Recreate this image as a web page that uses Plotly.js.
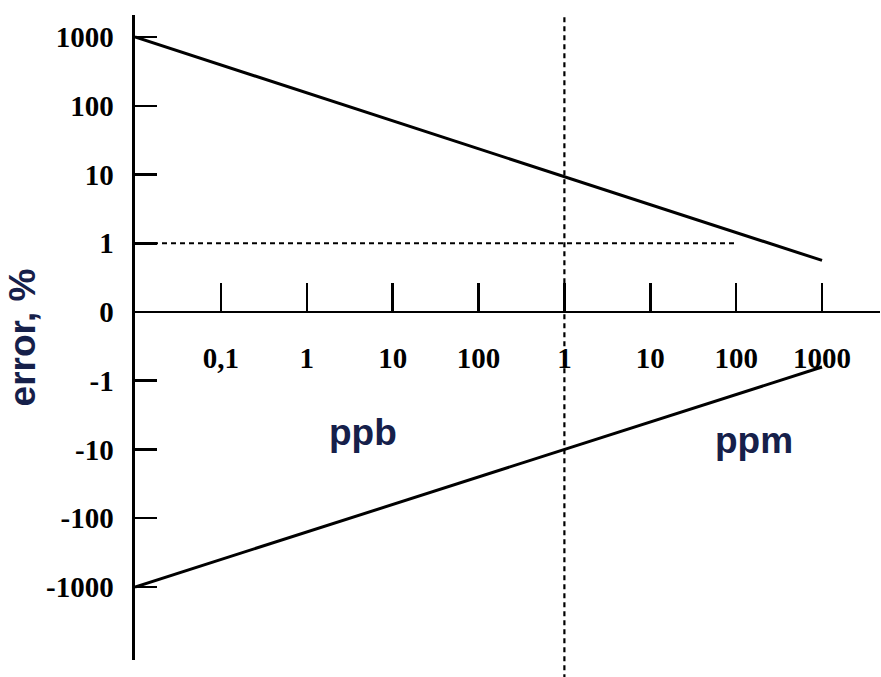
<!DOCTYPE html>
<html>
<head>
<meta charset="utf-8">
<script src="https://cdn.plot.ly/plotly-3.0.1.min.js"></script>
<style>html,body{margin:0;padding:0;background:#fff;}#chart{width:881px;height:677px;}</style>
</head>
<body>
<div id="chart"></div>
<script>
// concentration tick values (in ppb) and their labels (ppb part, then ppm part)
const concTicksPpb = [0.1, 1, 10, 100, 1000, 10000, 100000, 1000000];
const concTickLabels = ['0,1', '1', '10', '100', '1', '10', '100', '1000'];
// error axis ticks (%)
const errTicks = [1000, 100, 10, 1, 0, -1, -10, -100, -1000];
const errTickLabels = ['1000', '100', '10', '1', '0', '-1', '-10', '-100', '-1000'];
// error envelope lines
const envelopeConc = [0.01, 1000000];
const upperError = [1000, 0.75];
const lowerError = [-1000, -0.8];
// 1 % reference line
const refConc = [0.01, 100000];
const refError = [1, 1];
// 1 ppm marker (in ppb)
const markerConc = [1000];

// symmetric log transform for the schematic error axis
function T(v) { return Math.abs(v) >= 1 ? Math.sign(v) * (1 + Math.log10(Math.abs(v))) : v; }
const L = v => Math.log10(v);

const yRange = [-5.062, 4.32];
const xRange = [-2, 6.675];
const xPos = (0 - yRange[0]) / (yRange[1] - yRange[0]);
const navy = '#16204a';

const traces = [
  { x: envelopeConc.map(L), y: upperError.map(T), mode: 'lines', line: { color: '#000', width: 3 }, hoverinfo: 'skip' },
  { x: envelopeConc.map(L), y: lowerError.map(T), mode: 'lines', line: { color: '#000', width: 3 }, hoverinfo: 'skip' },
  { x: refConc.map(L), y: refError.map(T), mode: 'lines', line: { color: '#000', width: 2.2, dash: '5px,4px' }, hoverinfo: 'skip' }
];

const layout = {
  width: 881, height: 677,
  margin: { l: 135, r: 1, t: 15, b: 17 },
  paper_bgcolor: '#fff', plot_bgcolor: '#fff',
  showlegend: false,
  xaxis: {
    range: xRange, anchor: 'free', position: xPos,
    tickmode: 'array', tickvals: concTicksPpb.map(L), ticktext: concTickLabels,
    ticks: 'inside', ticklen: 28, tickwidth: 2.5, tickcolor: '#000',
    showline: true, linecolor: '#000', linewidth: 2,
    showgrid: false, zeroline: false, ticklabelstandoff: 20,
    tickfont: { family: 'Liberation Serif', size: 29, weight: 'bold', color: '#000' }
  },
  yaxis: {
    range: yRange,
    tickmode: 'array', tickvals: errTicks.map(T), ticktext: errTickLabels,
    ticks: 'inside', ticklen: 22, tickwidth: 2.5, tickcolor: '#000',
    showline: true, linecolor: '#000', linewidth: 3.5,
    showgrid: false, zeroline: false, ticklabelstandoff: 12,
    tickfont: { family: 'Liberation Serif', size: 29, weight: 'bold', color: '#000' },
    title: { text: 'error, %', standoff: 0, font: { family: 'Liberation Sans', size: 37, weight: 'bold', color: navy } }
  },
  shapes: markerConc.map(c => ({
    type: 'line', xref: 'x', yref: 'paper', x0: L(c), x1: L(c), y0: -0.03, y1: 1,
    line: { color: '#000', width: 2.2, dash: '5px,4px' }
  })),
  annotations: [
    { text: 'ppb', xref: 'paper', yref: 'paper', x: 0.258, y: 0.352, showarrow: false,
      font: { family: 'Liberation Sans', size: 37, weight: 'bold', color: navy } },
    { text: 'ppm', xref: 'paper', yref: 'paper', x: 0.886, y: 0.305, showarrow: false,
      font: { family: 'Liberation Sans', size: 37, weight: 'bold', color: navy } }
  ]
};

Plotly.newPlot('chart', traces, layout, { displayModeBar: false, staticPlot: true });
</script>
</body>
</html>
